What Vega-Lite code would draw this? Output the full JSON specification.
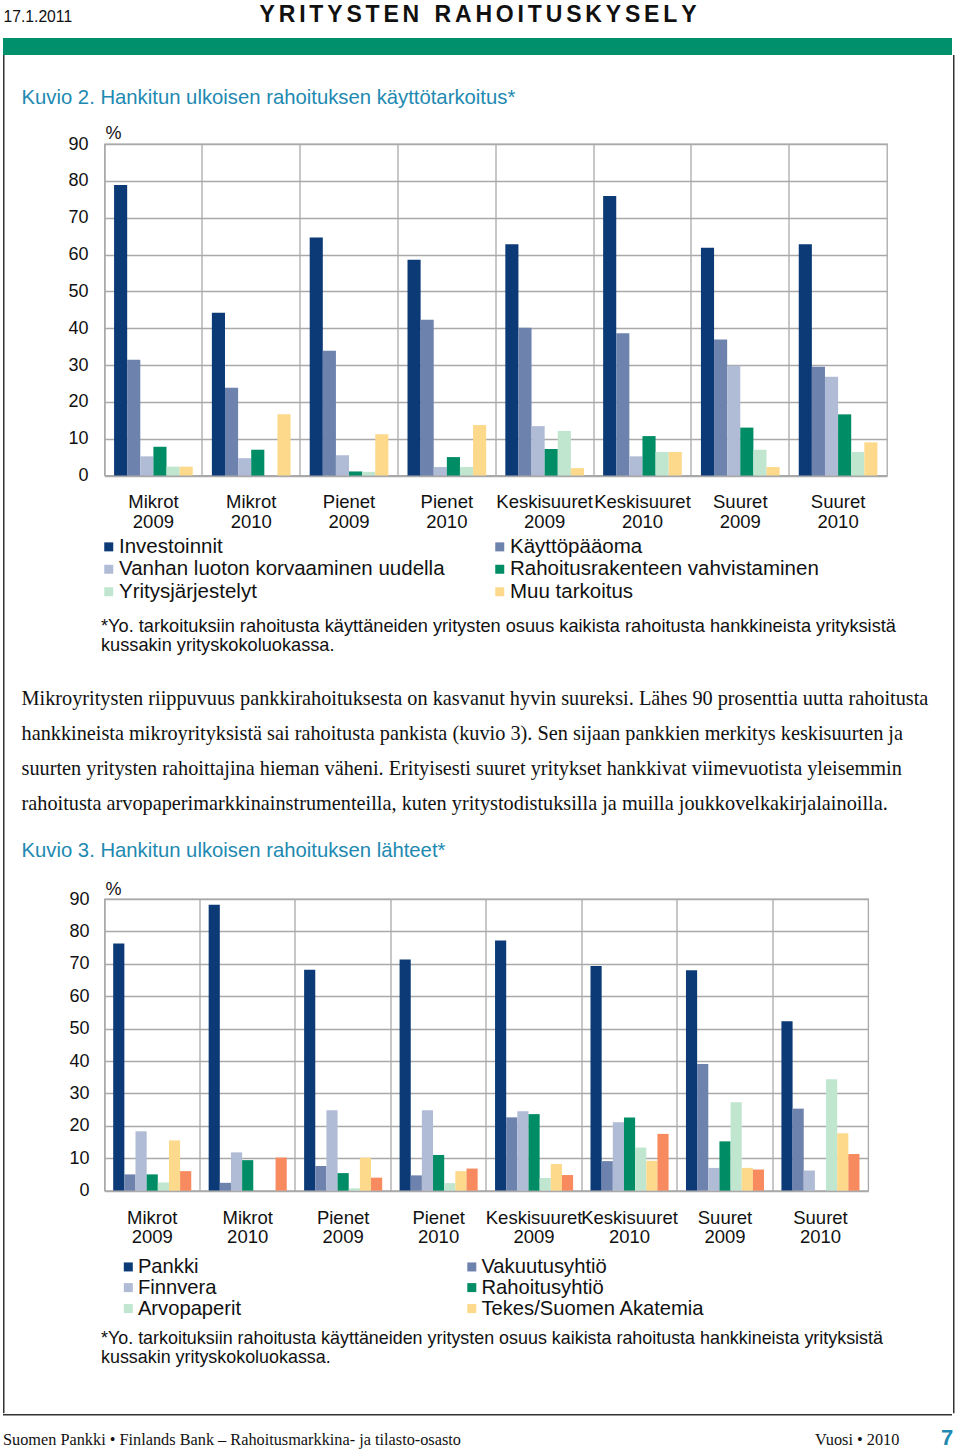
{
  "$schema": "https://vega.github.io/schema/vega-lite/v6.json",
  "padding": {"left": 3, "top": 3, "right": 0, "bottom": 0},
  "background": "white",
  "config": {"view": {"stroke": null}, "font": "Liberation Sans"},
  "datasets": {
    "a": [
      {"g1": "Mikrot 2009", "s1": "Investoinnit", "v": 78.9},
      {"g1": "Mikrot 2009", "s1": "Käyttöpääoma", "v": 31.4},
      {"g1": "Mikrot 2009", "s1": "Vanhan luoton korvaaminen uudella", "v": 5.2},
      {"g1": "Mikrot 2009", "s1": "Rahoitusrakenteen vahvistaminen", "v": 7.8},
      {"g1": "Mikrot 2009", "s1": "Yritysjärjestelyt", "v": 2.4},
      {"g1": "Mikrot 2009", "s1": "Muu tarkoitus", "v": 2.4},
      {"g1": "Mikrot 2010", "s1": "Investoinnit", "v": 44.2},
      {"g1": "Mikrot 2010", "s1": "Käyttöpääoma", "v": 23.8},
      {"g1": "Mikrot 2010", "s1": "Vanhan luoton korvaaminen uudella", "v": 4.7},
      {"g1": "Mikrot 2010", "s1": "Rahoitusrakenteen vahvistaminen", "v": 7.0},
      {"g1": "Mikrot 2010", "s1": "Yritysjärjestelyt", "v": 0},
      {"g1": "Mikrot 2010", "s1": "Muu tarkoitus", "v": 16.6},
      {"g1": "Pienet 2009", "s1": "Investoinnit", "v": 64.6},
      {"g1": "Pienet 2009", "s1": "Käyttöpääoma", "v": 33.9},
      {"g1": "Pienet 2009", "s1": "Vanhan luoton korvaaminen uudella", "v": 5.5},
      {"g1": "Pienet 2009", "s1": "Rahoitusrakenteen vahvistaminen", "v": 1.1},
      {"g1": "Pienet 2009", "s1": "Yritysjärjestelyt", "v": 1.0},
      {"g1": "Pienet 2009", "s1": "Muu tarkoitus", "v": 11.2},
      {"g1": "Pienet 2010", "s1": "Investoinnit", "v": 58.6},
      {"g1": "Pienet 2010", "s1": "Käyttöpääoma", "v": 42.3},
      {"g1": "Pienet 2010", "s1": "Vanhan luoton korvaaminen uudella", "v": 2.3},
      {"g1": "Pienet 2010", "s1": "Rahoitusrakenteen vahvistaminen", "v": 5.0},
      {"g1": "Pienet 2010", "s1": "Yritysjärjestelyt", "v": 2.3},
      {"g1": "Pienet 2010", "s1": "Muu tarkoitus", "v": 13.7},
      {"g1": "Keskisuuret 2009", "s1": "Investoinnit", "v": 62.8},
      {"g1": "Keskisuuret 2009", "s1": "Käyttöpääoma", "v": 40.1},
      {"g1": "Keskisuuret 2009", "s1": "Vanhan luoton korvaaminen uudella", "v": 13.4},
      {"g1": "Keskisuuret 2009", "s1": "Rahoitusrakenteen vahvistaminen", "v": 7.2},
      {"g1": "Keskisuuret 2009", "s1": "Yritysjärjestelyt", "v": 12.1},
      {"g1": "Keskisuuret 2009", "s1": "Muu tarkoitus", "v": 2.0},
      {"g1": "Keskisuuret 2010", "s1": "Investoinnit", "v": 75.9},
      {"g1": "Keskisuuret 2010", "s1": "Käyttöpääoma", "v": 38.6},
      {"g1": "Keskisuuret 2010", "s1": "Vanhan luoton korvaaminen uudella", "v": 5.2},
      {"g1": "Keskisuuret 2010", "s1": "Rahoitusrakenteen vahvistaminen", "v": 10.7},
      {"g1": "Keskisuuret 2010", "s1": "Yritysjärjestelyt", "v": 6.4},
      {"g1": "Keskisuuret 2010", "s1": "Muu tarkoitus", "v": 6.4},
      {"g1": "Suuret 2009", "s1": "Investoinnit", "v": 61.8},
      {"g1": "Suuret 2009", "s1": "Käyttöpääoma", "v": 36.9},
      {"g1": "Suuret 2009", "s1": "Vanhan luoton korvaaminen uudella", "v": 29.8},
      {"g1": "Suuret 2009", "s1": "Rahoitusrakenteen vahvistaminen", "v": 13.0},
      {"g1": "Suuret 2009", "s1": "Yritysjärjestelyt", "v": 7.0},
      {"g1": "Suuret 2009", "s1": "Muu tarkoitus", "v": 2.3},
      {"g1": "Suuret 2010", "s1": "Investoinnit", "v": 62.8},
      {"g1": "Suuret 2010", "s1": "Käyttöpääoma", "v": 29.5},
      {"g1": "Suuret 2010", "s1": "Vanhan luoton korvaaminen uudella", "v": 26.8},
      {"g1": "Suuret 2010", "s1": "Rahoitusrakenteen vahvistaminen", "v": 16.6},
      {"g1": "Suuret 2010", "s1": "Yritysjärjestelyt", "v": 6.4},
      {"g1": "Suuret 2010", "s1": "Muu tarkoitus", "v": 9.0}
    ],
    "b": [
      {"g2": "Mikrot 2009", "s2": "Pankki", "v": 76.3},
      {"g2": "Mikrot 2009", "s2": "Vakuutusyhtiö", "v": 5.0},
      {"g2": "Mikrot 2009", "s2": "Finnvera", "v": 18.3},
      {"g2": "Mikrot 2009", "s2": "Rahoitusyhtiö", "v": 5.0},
      {"g2": "Mikrot 2009", "s2": "Arvopaperit", "v": 2.5},
      {"g2": "Mikrot 2009", "s2": "Tekes/Suomen Akatemia", "v": 15.5},
      {"g2": "Mikrot 2009", "s2": "Muu", "v": 6.0},
      {"g2": "Mikrot 2010", "s2": "Pankki", "v": 88.2},
      {"g2": "Mikrot 2010", "s2": "Vakuutusyhtiö", "v": 2.4},
      {"g2": "Mikrot 2010", "s2": "Finnvera", "v": 11.8},
      {"g2": "Mikrot 2010", "s2": "Rahoitusyhtiö", "v": 9.4},
      {"g2": "Mikrot 2010", "s2": "Arvopaperit", "v": 0},
      {"g2": "Mikrot 2010", "s2": "Tekes/Suomen Akatemia", "v": 0},
      {"g2": "Mikrot 2010", "s2": "Muu", "v": 10.2},
      {"g2": "Pienet 2009", "s2": "Pankki", "v": 68.2},
      {"g2": "Pienet 2009", "s2": "Vakuutusyhtiö", "v": 7.6},
      {"g2": "Pienet 2009", "s2": "Finnvera", "v": 24.8},
      {"g2": "Pienet 2009", "s2": "Rahoitusyhtiö", "v": 5.4},
      {"g2": "Pienet 2009", "s2": "Arvopaperit", "v": 0.7},
      {"g2": "Pienet 2009", "s2": "Tekes/Suomen Akatemia", "v": 10.2},
      {"g2": "Pienet 2009", "s2": "Muu", "v": 4.0},
      {"g2": "Pienet 2010", "s2": "Pankki", "v": 71.3},
      {"g2": "Pienet 2010", "s2": "Vakuutusyhtiö", "v": 4.7},
      {"g2": "Pienet 2010", "s2": "Finnvera", "v": 24.8},
      {"g2": "Pienet 2010", "s2": "Rahoitusyhtiö", "v": 11.0},
      {"g2": "Pienet 2010", "s2": "Arvopaperit", "v": 2.3},
      {"g2": "Pienet 2010", "s2": "Tekes/Suomen Akatemia", "v": 6.0},
      {"g2": "Pienet 2010", "s2": "Muu", "v": 6.8},
      {"g2": "Keskisuuret 2009", "s2": "Pankki", "v": 77.2},
      {"g2": "Keskisuuret 2009", "s2": "Vakuutusyhtiö", "v": 22.6},
      {"g2": "Keskisuuret 2009", "s2": "Finnvera", "v": 24.5},
      {"g2": "Keskisuuret 2009", "s2": "Rahoitusyhtiö", "v": 23.6},
      {"g2": "Keskisuuret 2009", "s2": "Arvopaperit", "v": 3.9},
      {"g2": "Keskisuuret 2009", "s2": "Tekes/Suomen Akatemia", "v": 8.2},
      {"g2": "Keskisuuret 2009", "s2": "Muu", "v": 4.8},
      {"g2": "Keskisuuret 2010", "s2": "Pankki", "v": 69.3},
      {"g2": "Keskisuuret 2010", "s2": "Vakuutusyhtiö", "v": 9.1},
      {"g2": "Keskisuuret 2010", "s2": "Finnvera", "v": 21.1},
      {"g2": "Keskisuuret 2010", "s2": "Rahoitusyhtiö", "v": 22.6},
      {"g2": "Keskisuuret 2010", "s2": "Arvopaperit", "v": 13.3},
      {"g2": "Keskisuuret 2010", "s2": "Tekes/Suomen Akatemia", "v": 9.2},
      {"g2": "Keskisuuret 2010", "s2": "Muu", "v": 17.5},
      {"g2": "Suuret 2009", "s2": "Pankki", "v": 68.0},
      {"g2": "Suuret 2009", "s2": "Vakuutusyhtiö", "v": 39.1},
      {"g2": "Suuret 2009", "s2": "Finnvera", "v": 7.0},
      {"g2": "Suuret 2009", "s2": "Rahoitusyhtiö", "v": 15.2},
      {"g2": "Suuret 2009", "s2": "Arvopaperit", "v": 27.3},
      {"g2": "Suuret 2009", "s2": "Tekes/Suomen Akatemia", "v": 7.0},
      {"g2": "Suuret 2009", "s2": "Muu", "v": 6.5},
      {"g2": "Suuret 2010", "s2": "Pankki", "v": 52.3},
      {"g2": "Suuret 2010", "s2": "Vakuutusyhtiö", "v": 25.3},
      {"g2": "Suuret 2010", "s2": "Finnvera", "v": 6.2},
      {"g2": "Suuret 2010", "s2": "Rahoitusyhtiö", "v": 0},
      {"g2": "Suuret 2010", "s2": "Arvopaperit", "v": 34.4},
      {"g2": "Suuret 2010", "s2": "Tekes/Suomen Akatemia", "v": 17.7},
      {"g2": "Suuret 2010", "s2": "Muu", "v": 11.3}
    ]
  },
  "spacing": 0,
  "vconcat": [
    {
      "width": 949, "height": 17,
      "view": {"fill": "#00906b", "stroke": null},
      "data": {"values": [{"v": 0}]},
      "mark": {"type": "point", "opacity": 0, "size": 0},
      "encoding": {
        "x": {"field": "v", "type": "quantitative", "axis": {"orient": "top", "title": "Y\u2006R\u2006I\u2006T\u2006Y\u2006S\u2006T\u2006E\u2006N\u2006\u2004\u2006R\u2006A\u2006H\u2006O\u2006I\u2006T\u2006U\u2006S\u2006K\u2006Y\u2006S\u2006E\u2006L\u2006Y", "titleFont": "Liberation Sans", "titleFontSize": 23, "titleFontWeight": "bold", "titleColor": "#111", "titleBaseline": "alphabetic", "titleY": -16.3, "labels": false, "ticks": false, "domain": false, "grid": false}},
        "y": {"field": "v", "type": "quantitative", "axis": {"title": "17.1.2011", "titleFont": "Liberation Sans", "titleFontSize": 15.7, "titleFontWeight": "normal", "titleColor": "#111", "titleAngle": 0, "titleAlign": "left", "titleBaseline": "alphabetic", "titleX": 0, "titleY": -16.8, "labels": false, "ticks": false, "domain": false, "grid": false}}
      }
    },
    {
      "spacing": 15.5,
      "hconcat": [
        {
          "width": 1.5, "height": 1358.2,
          "view": {"fill": "#333333", "stroke": null},
          "data": {"values": [{}]},
          "mark": {"type": "point", "opacity": 0, "size": 0},
          "encoding": {}
        },
        {
          "spacing": 0,
          "resolve": {"scale": {"x": "independent", "y": "independent", "color": "independent", "xOffset": "independent"}, "legend": {"color": "independent"}},
          "vconcat": [
            {
              "width": 1, "height": 31.9,
              "data": {"values": [{}]},
              "mark": {"type": "point", "opacity": 0, "size": 0},
              "encoding": {}
            },
            {
              "width": 782.5, "height": 331.5,
              "view": {"stroke": "#a9a9a9", "strokeWidth": 1.3},
              "data": {"name": "a"},
              "title": {"text": "Kuvio 2. Hankitun ulkoisen rahoituksen käyttötarkoitus*", "anchor": "start", "frame": "group", "dx": -83, "offset": 0, "baseline": "alphabetic", "font": "Liberation Sans", "fontSize": 20.3, "fontWeight": "normal", "color": "#2189b1"},
              "mark": {"type": "bar"},
              "encoding": {
                "x": {"field": "g1", "type": "nominal", "sort": null, "scale": {"paddingInner": 0, "paddingOuter": 0},
                  "axis": {"title": null, "labelAngle": 0, "labelExpr": "split(datum.label, ' ')", "labelFont": "Liberation Sans", "labelFontSize": 18.5, "labelLineHeight": 19.5, "labelBaseline": "alphabetic", "labelPadding": 32.2, "labelOverlap": false, "labelColor": "#111", "ticks": false, "domain": false, "grid": true, "bandPosition": 0, "gridColor": "#a9a9a9", "gridWidth": 1.3}},
                "xOffset": {"field": "s1", "type": "nominal", "sort": null, "scale": {"paddingInner": 0, "paddingOuter": 0.73}},
                "y": {"field": "v", "type": "quantitative", "scale": {"domain": [0, 90], "nice": false},
                  "axis": {"values": [0, 10, 20, 30, 40, 50, 60, 70, 80, 90], "title": "%", "titleAngle": 0, "titleAlign": "left", "titleBaseline": "alphabetic", "titleX": 0.5, "titleY": -5.8, "titleFont": "Liberation Sans", "titleFontSize": 18, "titleFontWeight": "normal", "titleColor": "#111", "labelFont": "Liberation Sans", "labelFontSize": 18, "labelColor": "#111", "labelPadding": 16.5, "ticks": false, "domain": false, "grid": true, "gridColor": "#a9a9a9", "gridWidth": 1.3}},
                "color": {"field": "s1", "type": "nominal", "sort": null,
                  "scale": {"domain": ["Investoinnit", "Vanhan luoton korvaaminen uudella", "Yritysjärjestelyt", "Käyttöpääoma", "Rahoitusrakenteen vahvistaminen", "Muu tarkoitus"], "range": ["#0b3a77", "#b0bbd6", "#c0e6cf", "#6e82ae", "#008c64", "#fdd98c"]},
                  "legend": {"orient": "none", "legendX": -6, "legendY": 392.5, "title": null, "columns": 2, "columnPadding": 44, "rowPadding": 1.5, "gridAlign": "all", "symbolType": "square", "symbolSize": 81, "symbolStrokeWidth": 0, "labelFont": "Liberation Sans", "labelFontSize": 20.5, "labelOffset": 0, "labelLimit": 600, "labelColor": "#111", "padding": 0}}
              }
            },
            {
              "width": 832.5, "height": 14.3,
              "data": {"values": [{}]},
              "mark": {"type": "point", "opacity": 0, "size": 0},
              "encoding": {},
              "title": {"text": ["*Yo. tarkoituksiin rahoitusta käyttäneiden yritysten osuus kaikista rahoitusta hankkineista yrityksistä", "kussakin yrityskokoluokassa."], "orient": "bottom", "anchor": "start", "frame": "group", "dx": -3.5, "offset": 0, "baseline": "top", "font": "Liberation Sans", "fontSize": 18.2, "lineHeight": 19, "fontWeight": "normal", "color": "#111"}
            },
            {
              "width": 832.5, "height": 33.5,
              "data": {"values": [{}]},
              "mark": {"type": "point", "opacity": 0, "size": 0},
              "encoding": {},
              "title": {"text": ["Mikroyritysten riippuvuus pankkirahoituksesta on kasvanut hyvin suureksi. Lähes 90 prosenttia uutta rahoitusta", "hankkineista mikroyrityksistä sai rahoitusta pankista (kuvio 3). Sen sijaan pankkien merkitys keskisuurten ja", "suurten yritysten rahoittajina hieman väheni. Erityisesti suuret yritykset hankkivat viimevuotista yleisemmin", "rahoitusta arvopaperimarkkinainstrumenteilla, kuten yritystodistuksilla ja muilla joukkovelkakirjalainoilla."], "orient": "bottom", "anchor": "start", "frame": "group", "dx": -83, "offset": 0, "baseline": "top", "font": "Liberation Serif", "fontSize": 20.3, "lineHeight": 35, "fontWeight": "normal", "color": "#111"}
            },
            {
              "width": 1, "height": 25.9,
              "data": {"values": [{}]},
              "mark": {"type": "point", "opacity": 0, "size": 0},
              "encoding": {}
            },
            {
              "width": 763.7, "height": 291.6,
              "view": {"stroke": "#a9a9a9", "strokeWidth": 1.3},
              "data": {"name": "b"},
              "title": {"text": "Kuvio 3. Hankitun ulkoisen rahoituksen lähteet*", "anchor": "start", "frame": "group", "dx": -83, "offset": 2.6, "baseline": "alphabetic", "font": "Liberation Sans", "fontSize": 20.3, "fontWeight": "normal", "color": "#2189b1"},
              "mark": {"type": "bar"},
              "encoding": {
                "x": {"field": "g2", "type": "nominal", "sort": null, "scale": {"paddingInner": 0, "paddingOuter": 0},
                  "axis": {"title": null, "labelAngle": 0, "labelExpr": "split(datum.label, ' ')", "labelFont": "Liberation Sans", "labelFontSize": 18.5, "labelLineHeight": 19.5, "labelBaseline": "alphabetic", "labelPadding": 32.7, "labelOverlap": false, "labelColor": "#111", "ticks": false, "domain": false, "grid": true, "bandPosition": 0, "gridColor": "#a9a9a9", "gridWidth": 1.3}},
                "xOffset": {"field": "s2", "type": "nominal", "sort": null, "scale": {"paddingInner": 0, "paddingOuter": 0.78}},
                "y": {"field": "v", "type": "quantitative", "scale": {"domain": [0, 90], "nice": false},
                  "axis": {"values": [0, 10, 20, 30, 40, 50, 60, 70, 80, 90], "title": "%", "titleAngle": 0, "titleAlign": "left", "titleBaseline": "alphabetic", "titleX": 0.5, "titleY": -4.8, "titleFont": "Liberation Sans", "titleFontSize": 18, "titleFontWeight": "normal", "titleColor": "#111", "labelFont": "Liberation Sans", "labelFontSize": 18, "labelColor": "#111", "labelPadding": 15.5, "ticks": false, "domain": false, "grid": true, "gridColor": "#a9a9a9", "gridWidth": 1.3}},
                "color": {"field": "s2", "type": "nominal", "sort": null,
                  "scale": {"domain": ["Pankki", "Finnvera", "Arvopaperit", "Vakuutusyhtiö", "Rahoitusyhtiö", "Tekes/Suomen Akatemia", "Muu"], "range": ["#0b3a77", "#b0bbd6", "#c0e6cf", "#6e82ae", "#008c64", "#fdd98c", "#f78a5f"]},
                  "legend": {"orient": "none", "legendX": 13.7, "legendY": 357.5, "title": null, "values": ["Pankki", "Finnvera", "Arvopaperit", "Vakuutusyhtiö", "Rahoitusyhtiö", "Tekes/Suomen Akatemia"], "columns": 2, "columnPadding": 100.5, "rowPadding": -2, "gridAlign": "all", "symbolType": "square", "symbolSize": 81, "symbolStrokeWidth": 0, "labelFont": "Liberation Sans", "labelFontSize": 20.2, "labelOffset": -0.5, "labelLimit": 600, "labelColor": "#111", "padding": 0}}
              }
            },
            {
              "width": 832.5, "height": 9,
              "data": {"values": [{}]},
              "mark": {"type": "point", "opacity": 0, "size": 0},
              "encoding": {},
              "title": {"text": ["*Yo. tarkoituksiin rahoitusta käyttäneiden yritysten osuus kaikista rahoitusta hankkineista yrityksistä", "kussakin yrityskokoluokassa."], "orient": "bottom", "anchor": "start", "frame": "group", "dx": -3.5, "offset": 0, "baseline": "top", "font": "Liberation Sans", "fontSize": 17.9, "lineHeight": 19, "fontWeight": "normal", "color": "#111"}
            }
          ]
        },
        {
          "width": 1.5, "height": 1358.2,
          "view": {"fill": "#333333", "stroke": null},
          "data": {"values": [{}]},
          "mark": {"type": "point", "opacity": 0, "size": 0},
          "encoding": {}
        }
      ]
    },
    {
      "width": 949, "height": 1.5,
      "view": {"fill": "#333333", "stroke": null},
      "data": {"values": [{}]},
      "mark": {"type": "point", "opacity": 0, "size": 0},
      "encoding": {}
    },
    {
      "spacing": 0,
      "hconcat": [
        {
          "width": 812, "height": 1,
          "data": {"values": [{}]},
          "mark": {"type": "point", "opacity": 0, "size": 0},
          "encoding": {},
          "title": {"text": "Suomen Pankki • Finlands Bank – Rahoitusmarkkina- ja tilasto-osasto", "orient": "bottom", "anchor": "start", "frame": "group", "offset": 28, "baseline": "alphabetic", "font": "Liberation Serif", "fontSize": 16.3, "fontWeight": "normal", "color": "#111"}
        },
        {
          "width": 125.5, "height": 1,
          "data": {"values": [{}]},
          "mark": {"type": "point", "opacity": 0, "size": 0},
          "encoding": {},
          "title": {"text": "Vuosi • 2010", "orient": "bottom", "anchor": "start", "frame": "group", "offset": 28, "baseline": "alphabetic", "font": "Liberation Serif", "fontSize": 16.3, "fontWeight": "normal", "color": "#111"}
        },
        {
          "width": 10, "height": 1,
          "data": {"values": [{}]},
          "mark": {"type": "point", "opacity": 0, "size": 0},
          "encoding": {},
          "title": {"text": "7", "orient": "bottom", "anchor": "start", "frame": "group", "offset": 28, "baseline": "alphabetic", "font": "Liberation Sans", "fontSize": 22, "fontWeight": "bold", "color": "#2189b1"}
        }
      ]
    }
  ]
}
